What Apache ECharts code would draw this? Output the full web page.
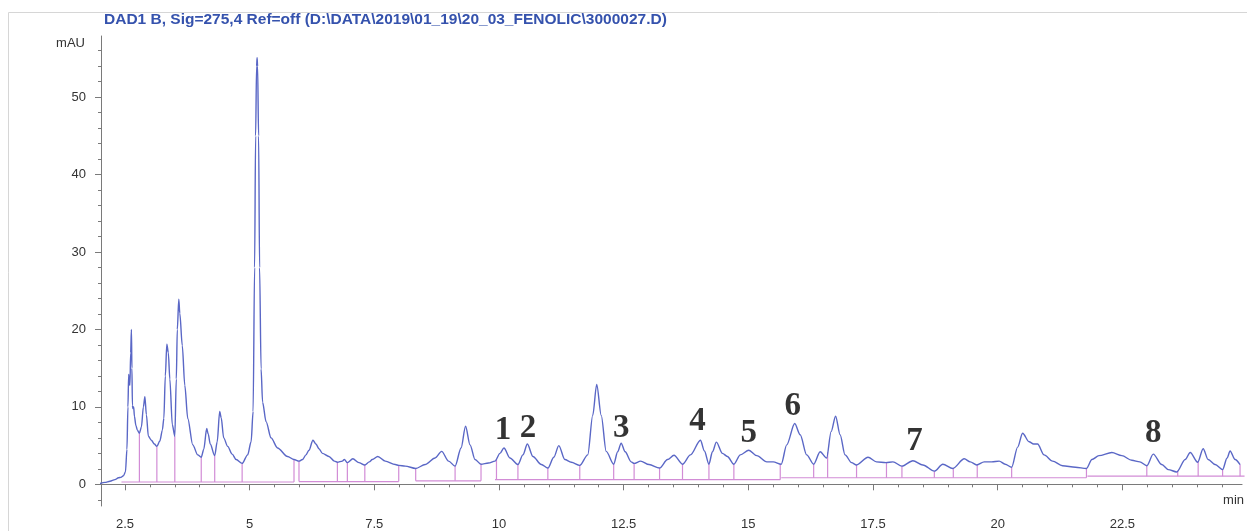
<!DOCTYPE html>
<html><head><meta charset="utf-8">
<script src="https://cdn.jsdelivr.net/npm/echarts@6/dist/echarts.min.js"></script>
<style>html,body{margin:0;padding:0;background:#fff}#chart{width:1247px;height:531px}</style>
</head><body><div id="chart"></div>
<script>
// Retention time (min)
const signalTime = [2.00,2.10,2.20,2.30,2.37,2.42,2.47,2.51,2.54,2.56,2.575,2.59,2.60,2.615,2.63,2.64,2.65,2.66,2.675,2.69,2.72,2.75,2.79,2.83,2.87,2.90,2.93,2.97,3.03,3.09,3.14,3.20,3.25,3.28,3.31,3.34,3.37,3.40,3.45,3.50,3.53,3.55,3.58,3.60,3.65,3.70,3.76,3.86,3.96,4.03,4.08,4.14,4.17,4.21,4.30,4.35,4.40,4.43,4.48,4.56,4.65,4.73,4.85,4.96,5.03,5.07,5.10,5.12,5.14,5.15,5.16,5.18,5.20,5.23,5.26,5.33,5.43,5.56,5.76,5.89,5.99,6.06,6.13,6.19,6.27,6.33,6.39,6.46,6.59,6.70,6.76,6.86,6.90,6.96,7.07,7.19,7.31,7.40,7.46,7.57,7.72,7.92,7.99,8.12,8.33,8.52,8.72,8.85,8.99,9.12,9.24,9.33,9.42,9.52,9.64,9.79,9.92,10.02,10.10,10.22,10.38,10.48,10.57,10.68,10.85,10.98,11.10,11.20,11.32,11.45,11.62,11.78,11.88,11.96,12.05,12.15,12.30,12.38,12.45,12.53,12.65,12.71,12.84,13.01,13.22,13.38,13.51,13.68,13.84,14.04,14.12,14.21,14.28,14.36,14.48,14.58,14.71,14.84,15.01,15.17,15.37,15.50,15.66,15.77,15.93,16.04,16.17,16.31,16.44,16.57,16.66,16.75,16.84,16.94,17.07,17.17,17.40,17.57,17.76,17.90,18.08,18.30,18.50,18.73,18.90,19.10,19.33,19.45,19.58,19.73,19.88,20.03,20.15,20.28,20.40,20.50,20.63,20.72,20.80,20.93,21.10,21.30,21.56,21.78,21.89,22.03,22.29,22.49,22.69,22.85,22.99,23.12,23.29,23.42,23.59,23.76,23.86,24.01,24.12,24.22,24.36,24.51,24.60,24.66,24.76,24.86];
// Absorbance (mAU)
const signalMAU = [0.1,0.25,0.4,0.6,0.85,0.9,1.1,1.6,4.5,10,14.2,13.0,12.8,17,20.0,15,10.2,9.8,10.0,8.8,7.6,7.0,6.6,7.4,10.0,11.3,9.0,6.2,5.7,5.2,4.9,5.6,7.0,8.5,14.0,18.1,17.0,13.6,7.7,6.2,13.6,20.0,23.9,22.1,17.9,12.8,8.5,5.1,3.8,3.5,4.5,7.2,6.5,5.2,3.7,5.5,9.4,8.6,6.0,4.9,3.9,3.2,2.7,3.8,5.5,9.4,28,45,54,55.1,54,45,28,14.9,10.6,8.1,6.0,4.7,3.6,3.2,3.0,3.2,3.8,4.4,5.7,5.2,4.6,4.0,3.6,3.0,2.85,3.0,3.2,2.8,3.3,2.8,2.5,2.9,3.2,3.6,3.0,2.55,2.45,2.35,2.05,2.55,3.4,4.25,3.0,2.35,4.7,7.5,5.1,3.2,2.6,2.75,3.0,4.0,4.7,3.4,2.55,3.8,5.2,3.6,2.55,2.1,3.5,5.0,3.2,2.85,2.45,3.8,8.9,12.9,8.9,4.25,2.6,4.2,5.3,4.2,2.9,2.7,3.0,2.55,2.1,3.2,3.75,2.6,3.8,5.7,4.3,2.6,4.2,5.45,4.0,3.6,2.6,3.8,4.4,3.7,2.9,2.9,2.6,5.1,7.85,6.4,3.8,2.6,4.2,3.4,6.8,8.8,6.4,3.8,2.8,2.5,3.5,2.9,2.8,2.9,2.35,3.05,2.5,1.7,2.6,2.05,3.3,2.9,2.5,2.9,2.9,3.0,2.6,2.2,4.8,6.6,5.5,5.2,5.2,3.8,3.0,2.4,2.2,2.05,3.2,3.7,4.1,3.7,3.1,2.9,2.4,3.9,2.55,1.9,1.6,3.2,4.1,2.85,4.6,3.2,2.55,1.9,3.4,4.3,3.2,2.55];

// Integration marks: drop-line times and baseline segments
const dropTimes = [2.79,3.14,3.50,4.03,4.30,4.85,5.89,5.99,6.76,6.96,7.31,7.99,8.33,9.12,9.64,9.95,10.38,10.98,11.62,12.30,12.71,13.22,13.68,14.21,14.71,15.64,16.31,16.59,17.17,17.77,18.08,18.73,19.11,19.59,20.28,21.78,22.99,23.61,24.02,24.51,24.86];
const baselineStart = [2.43,5.99,8.33,9.92,15.66,21.80];
const baselineEnd   = [5.89,7.99,9.64,15.64,21.78,24.95];
const baselineLevel = [0.3,0.35,0.45,0.6,0.85,1.05];

// Peak annotations
const peakNames = ['1','2','3','4','5','6','7','8'];
const peakLabelTime = [10.08,10.58,12.45,13.98,15.01,15.89,18.33,23.12];
const peakLabelMAU  = [7.0,7.2,7.2,8.1,6.6,10.0,5.5,6.6];

// Axis ticks
const xTickValues = [2.5,5,7.5,10,12.5,15,17.5,20,22.5];
const xMinorTickValues = [];
for (let i = 5; i <= 49; i++) xMinorTickValues.push(i / 2);
const yTickValues = [0,10,20,30,40,50];
const yMinorTickValues = [];
for (let i = -1; i <= 28; i++) yMinorTickValues.push(i * 2);

const X_MIN = 2.02, X_MAX = 24.9, Y_MIN = -2.8, Y_MAX = 57.9;

function interpSignal(t) {
  for (let i = 1; i < signalTime.length; i++) {
    if (signalTime[i] >= t) {
      const t0 = signalTime[i-1], t1 = signalTime[i];
      const f = (t - t0) / (t1 - t0);
      return signalMAU[i-1] + f * (signalMAU[i] - signalMAU[i-1]);
    }
  }
  return signalMAU[signalMAU.length - 1];
}
function baseAt(t) {
  let best = 0, bd = Infinity;
  for (let i = 0; i < baselineStart.length; i++) {
    if (t >= baselineStart[i] - 0.03 && t <= baselineEnd[i] + 0.03) return baselineLevel[i];
    const d = Math.min(Math.abs(t - baselineStart[i]), Math.abs(t - baselineEnd[i]));
    if (d < bd) { bd = d; best = i; }
  }
  return baselineLevel[best];
}

const segments = [];
for (let i = 0; i < baselineStart.length; i++) {
  segments.push([baselineStart[i], baselineLevel[i], baselineEnd[i], baselineLevel[i]]);
}
dropTimes.forEach(t => segments.push([t, baseAt(t), t, interpSignal(t)]));

const signal = signalTime.map((t, i) => [t, signalMAU[i]]);
const peakData = peakNames.map((n, i) => [peakLabelTime[i], peakLabelMAU[i], n]);

const axisColor = '#7a7a7a';
const chart = echarts.init(document.getElementById('chart'));
chart.setOption({
  animation: false,
  backgroundColor: '#fff',
  title: {
    text: 'DAD1 B, Sig=275,4 Ref=off (D:\\DATA\\2019\\01_19\\20_03_FENOLIC\\3000027.D)',
    left: 104, top: 12, padding: 0,
    textStyle: { fontFamily: 'Liberation Sans', fontSize: 15.5, fontWeight: 'bold', color: '#3552ad' }
  },
  graphic: [{
    type: 'rect', left: 6, top: 10, z: -10,
    shape: { width: 1300, height: 600 },
    style: { fill: 'none', stroke: '#d6d6d6', lineWidth: 1 }
  }],
  grid: { left: 101, right: 0, top: 36, bottom: 19, containLabel: false },
  xAxis: [{
    type: 'value', min: X_MIN, max: X_MAX, position: 'bottom',
    name: 'min', nameLocation: 'end', nameGap: -19,
    nameTextStyle: { fontFamily: 'Liberation Sans', fontSize: 13, color: '#333', align: 'left', verticalAlign: 'top', padding: [10, 0, 0, 0] },
    axisLine: { show: true, lineStyle: { color: axisColor, width: 1 } },
    axisTick: { show: true, customValues: xTickValues, length: 6, lineStyle: { color: axisColor } },
    axisLabel: { show: true, customValues: xTickValues, margin: 12, fontFamily: 'Liberation Sans', fontSize: 13, color: '#333', formatter: v => String(v) },
    splitLine: { show: false }
  }, {
    type: 'value', min: X_MIN, max: X_MAX, position: 'bottom', offset: 0,
    axisLine: { show: false },
    axisTick: { show: true, customValues: xMinorTickValues, length: 3, lineStyle: { color: axisColor } },
    axisLabel: { show: false },
    splitLine: { show: false }
  }],
  yAxis: [{
    type: 'value', min: Y_MIN, max: Y_MAX, position: 'left',
    name: 'mAU', nameLocation: 'end', nameGap: -7,
    nameTextStyle: { fontFamily: 'Liberation Sans', fontSize: 13, color: '#333', align: 'right', verticalAlign: 'middle', padding: [0, 16, 0, 0] },
    axisLine: { show: true, lineStyle: { color: axisColor, width: 1 } },
    axisTick: { show: true, customValues: yTickValues, length: 6, lineStyle: { color: axisColor } },
    axisLabel: { show: true, customValues: yTickValues, margin: 15, fontFamily: 'Liberation Sans', fontSize: 13, color: '#333' },
    splitLine: { show: false }
  }, {
    type: 'value', min: Y_MIN, max: Y_MAX, position: 'left', offset: 0,
    axisLine: { show: false },
    axisTick: { show: true, customValues: yMinorTickValues, length: 3, lineStyle: { color: axisColor } },
    axisLabel: { show: false },
    splitLine: { show: false }
  }],
  series: [{
    type: 'custom', xAxisIndex: 0, yAxisIndex: 0,
    data: segments, encode: { x: [0, 2], y: [1, 3] },
    renderItem: function (params, api) {
      const p1 = api.coord([api.value(0), api.value(1)]);
      const p2 = api.coord([api.value(2), api.value(3)]);
      return { type: 'line', shape: { x1: p1[0], y1: p1[1], x2: p2[0], y2: p2[1] },
               style: { stroke: '#d28cd6', lineWidth: 1.2 } };
    },
    z: 1
  }, {
    type: 'line', xAxisIndex: 0, yAxisIndex: 0,
    data: signal, showSymbol: false, smooth: 0.3, smoothMonotone: 'x',
    lineStyle: { color: '#5a67c6', width: 1.4 },
    z: 2
  }, {
    type: 'scatter', xAxisIndex: 0, yAxisIndex: 0,
    data: peakData, symbolSize: 0.1, itemStyle: { color: 'transparent' },
    label: { show: true, position: 'inside', formatter: p => p.data[2],
             fontFamily: 'Liberation Serif', fontWeight: 'bold', fontSize: 33, color: '#000' },
    z: 3
  }]
});
</script>
</body></html>
